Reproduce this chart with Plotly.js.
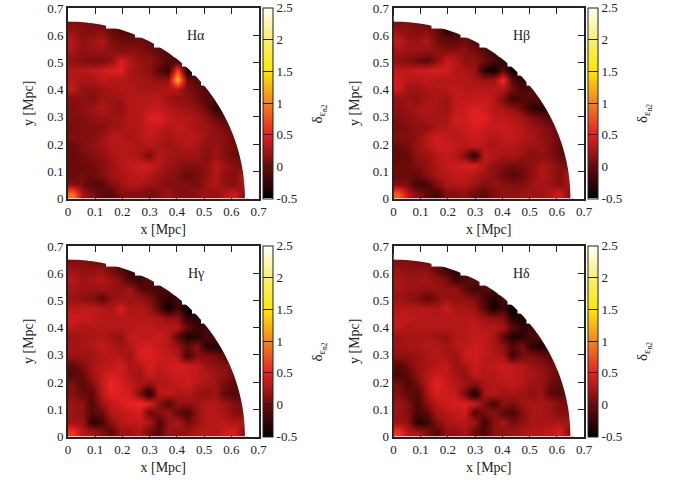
<!DOCTYPE html>
<html><head><meta charset="utf-8">
<script src="https://cdn.plot.ly/plotly-3.0.1.min.js"></script>
<style>html,body{margin:0;padding:0;background:#fff}</style></head>
<body><div id="chart" style="width:676px;height:490px"></div>
<script>
// Cell values; rows run from the top of the map (y about 0.65) to the bottom.
const zHalpha = [
[.1,.1,.05,0],
[.2,.1,.1,.15,0,-.1,-.1],
[.3,.15,.2,.3,.1,.05,0,.05,-.05],
[.25,.15,.2,.2,.15,.1,.15,.1,.05,-.05,-.1],
[.15,.1,.05,.05,.15,.45,.3,.15,.15,.05,-.1,-.2],
[.3,.3,.35,.4,.45,.5,.25,.2,.15,-.1,-.25,.7,-.4],
[.3,.25,.25,.35,.3,.3,.25,.25,.2,.15,.15,1.3,0,-.1],
[.35,.15,.15,.2,.25,.3,.3,.25,.25,.25,.3,.3,.1,0,-.1],
[.1,.15,.1,.2,.2,.2,.3,.3,.3,.35,.2,.15,.15,.05,-.1,-.1],
[.1,.15,.2,.3,.2,.15,.3,.3,.35,.35,.3,.25,.2,.15,0,-.3,-.2],
[.1,.1,.15,.2,.2,.2,.3,.3,.45,.5,.35,.3,.3,.25,.15,0,-.1],
[.05,.1,.1,.1,.2,.25,.3,.3,.4,.35,.3,.35,.3,.25,.2,.15,.05,0],
[.1,.1,.1,.2,.3,.3,.25,.3,.35,.3,.25,.3,.3,.3,.2,.15,.1,0],
[0,.1,.15,.2,.3,.3,.3,.25,.3,.25,.2,.25,.3,.25,.15,.2,.1,.05,0],
[0,.05,.1,.15,.25,.3,.3,.25,.05,.3,.25,.2,.2,.2,.1,.2,.1,0,0],
[0,0,.05,.1,.2,.3,.35,.4,.4,.3,.2,.15,.1,.1,.15,.3,.2,.1,.05],
[0,.05,0,.1,.2,.25,.3,.35,.3,.2,.15,.1,0,.05,.15,.3,.15,.1,.3],
[.1,.05,-.1,-.1,.1,.2,.3,.3,.2,.15,.1,.1,.1,.05,.2,.3,.15,.1,.3],
[.9,.2,.1,-.05,-.1,.1,.1,.1,.05,.1,.2,.1,.1,.15,.2,.15,.3,.4,.1]];
const zHbeta = [
[.1,.1,.05,0],
[.2,.15,.1,.15,0,-.25,-.2],
[.35,.2,.2,.3,.05,0,-.05,.05,-.1],
[.25,.2,.2,.15,.15,.1,.15,.15,.05,-.1,-.2],
[.15,.1,0,-.05,.1,.4,.3,.15,.15,.05,-.15,-.3],
[.35,.35,.4,.4,.45,.4,.3,.25,.2,-.3,-.45,-.05,-.45],
[.4,.3,.3,.35,.3,.3,.3,.3,.25,.2,.2,.6,-.1,-.3],
[.4,.2,.2,.25,.3,.3,.35,.3,.3,.3,.3,.3,.05,-.15,-.1],
[.15,.2,.15,.25,.25,.2,.35,.35,.35,.4,.3,.1,-.2,-.1,-.1,-.1],
[.15,.2,.25,.3,.25,.2,.35,.4,.45,.4,.3,.25,.15,0,-.3,-.35,-.2],
[.1,.15,.2,.25,.25,.25,.4,.4,.5,.5,.35,.35,.3,.25,.1,0,-.1],
[.05,.1,.15,.15,.25,.3,.35,.4,.45,.4,.35,.4,.35,.3,.2,.15,.05,0],
[.1,.1,.15,.3,.4,.35,.3,.35,.4,.35,.3,.35,.35,.3,.25,.15,.1,0],
[0,.05,.2,.3,.4,.4,.35,.3,.35,.3,.25,.3,.3,.25,.2,.2,.1,-.05,0],
[-.05,0,.15,.2,.3,.35,.3,.1,-.3,.35,.3,.25,.25,.2,.1,.15,.1,-.05,0],
[0,0,.1,.15,.3,.35,.4,.45,.45,.3,.15,.1,.05,.05,.15,.25,.2,.1,.05],
[0,0,0,.15,.25,.3,.35,.35,.3,.2,.15,0,-.1,0,.15,.3,.2,.1,.3],
[.1,.05,-.2,-.15,.1,.25,.3,.3,.2,.1,.15,.15,.1,.1,.2,.25,.2,.1,.25],
[.8,.3,.1,-.05,-.2,.1,.1,.15,0,-.05,.1,.15,.15,.2,.2,.2,.3,.4,.1]];
const zHgamma = [
[.1,.1,.05,0],
[.2,.15,.15,.2,.05,-.1,-.25],
[.3,.2,.25,.3,.2,.1,-.15,-.2,-.05],
[.25,.2,.2,.2,.2,.15,.25,-.05,-.15,-.15,-.1],
[.2,.15,.1,-.05,.15,.2,.2,.2,.1,-.15,-.3,-.2],
[.3,.35,.35,.3,.25,.45,.25,.3,.2,-.1,-.45,-.15,-.5],
[.4,.4,.35,.3,.3,.3,.3,.3,.3,.25,.15,.15,-.3,-.3],
[.35,.25,.3,.3,.3,.3,.3,.35,.35,.3,.3,.3,0,-.25,-.2],
[.2,.25,.25,.3,.2,.15,.35,.35,.35,.4,.3,-.05,-.35,-.3,-.15,-.1],
[.25,.25,.3,.35,.3,.2,.3,.4,.45,.35,.3,.2,-.05,.15,-.3,-.35,-.25],
[.2,.2,.2,.3,.3,.3,.2,.45,.45,.4,.35,.3,-.15,.1,.1,.05,-.1],
[-.05,.1,.25,.3,.35,.4,.25,.3,.45,.35,.4,.45,.4,.35,.2,.15,.1,.05],
[-.1,0,.2,.35,.45,.4,.3,.2,.4,.3,.35,.4,.4,.35,.3,.2,.15,0],
[.1,-.1,.1,.35,.55,.45,.35,.25,.15,.3,.3,.35,.4,.3,.25,.2,.05,-.05,.1],
[.1,0,-.05,.3,.5,.45,.4,.1,-.35,.3,.35,.25,.3,.2,.15,.2,-.05,-.1,0],
[.2,.15,-.1,.2,.35,.45,.5,.55,.5,.15,-.1,.2,.15,.2,.3,.3,.2,.1,.05],
[.2,.15,-.1,0,.3,.35,.4,.45,0,.1,.2,-.05,-.15,.15,.3,.3,.25,.1,.1],
[.2,.2,-.3,-.2,.15,.3,.35,.35,.3,-.1,.15,.3,.05,.15,.3,.3,.3,.25,.3],
[.6,.3,.25,.1,-.05,.2,.2,.3,.05,-.1,.2,.15,.2,.3,.3,.3,.4,.45,.1]];
const zHdelta = [
[.1,.1,.05,0],
[.2,.15,.15,.15,0,-.2,-.3],
[.25,.2,.2,.25,.15,.1,-.2,-.1,-.05],
[.25,.2,.2,.15,.2,.15,.2,-.05,-.2,-.1,-.1],
[.2,.15,.1,-.05,.1,.2,.15,.15,.1,-.15,-.35,-.2],
[.3,.3,.3,.3,.25,.4,.25,.25,.2,-.1,-.4,-.2,-.5],
[.35,.35,.3,.3,.3,.3,.3,.3,.3,.2,.15,.1,-.35,-.35],
[.35,.25,.3,.3,.3,.3,.3,.3,.35,.3,.3,.25,-.05,-.3,-.2],
[.2,.25,.25,.25,.2,.15,.3,.3,.35,.35,.25,-.05,-.35,-.3,-.15,-.1],
[.2,.25,.25,.3,.3,.2,.3,.35,.4,.35,.25,.15,-.1,.1,-.3,-.35,-.25],
[.15,.15,.2,.25,.3,.25,.2,.4,.4,.35,.3,.25,-.2,.05,.1,0,-.1],
[-.1,.05,.2,.25,.3,.35,.2,.25,.4,.3,.35,.4,.35,.3,.2,.15,.05,.05],
[-.15,-.05,.15,.3,.4,.35,.25,.15,.35,.3,.3,.35,.35,.3,.25,.2,.1,-.05],
[.05,-.15,.05,.3,.5,.4,.3,.2,.1,.25,.3,.3,.35,.3,.2,.2,0,-.1,.1],
[.1,-.05,-.1,.25,.45,.4,.35,.05,-.4,.25,.3,.2,.25,.2,.15,.2,-.05,-.1,0],
[.2,.1,-.15,.15,.3,.4,.45,.45,.4,.1,-.15,.15,.1,.2,.25,.25,.2,.1,.05],
[.2,.1,-.15,-.05,.25,.3,.35,.4,-.1,.05,.15,-.05,-.15,.1,.25,.25,.2,.1,.1],
[.2,.15,-.35,-.25,.1,.25,.3,.3,.25,-.2,.1,.25,.05,.15,.25,.25,.25,.25,.25],
[.6,.3,.25,.1,-.1,.15,.15,.25,0,-.15,.15,.15,.2,.25,.3,.3,.35,.45,.1]];

const panelNames = ['Hα','Hβ','Hγ','Hδ'];
const panelData = [zHalpha, zHbeta, zHgamma, zHdelta];
const axisTicks = [0,0.1,0.2,0.3,0.4,0.5,0.6,0.7];
const axisTickText = ['0','0.1','0.2','0.3','0.4','0.5','0.6','0.7'];
const barTicks = [-0.5,0,0.5,1,1.5,2,2.5];
const barTickText = ['-0.5','0','0.5','1','1.5','2','2.5'];
const colorStops = [[-0.5,'#000000'],[0,'#6a0a0a'],[0.5,'#e62020'],[1,'#f58220'],[1.5,'#ffe600'],[2,'#faf06e'],[2.5,'#fffffa']];
const mapRadius = 0.65;

const W = 676, H = 490;
const FONT = 'Liberation Serif';
const INK = '#222222';
const lefts = [68, 393.5], tops = [8, 246], SIZE = 190.5;
const scale = colorStops.map(([v,c]) => [(v+0.5)/3, c]);

// White area outside the circular map, computed from the radius
const maskPts = [];
for (let a = 0; a <= 90; a += 1) {
  const t = a*Math.PI/180;
  maskPts.push([mapRadius*Math.sin(t), mapRadius*Math.cos(t)]);
}
const maskPath = (xr, yr) => 'M' + maskPts.map(p => p[0].toFixed(4)+','+p[1].toFixed(4)).join(' L') +
  ' L0.672,0 L0.672,0.672 L0,0.672 Z';

const traces = [], layout = {
  width: W, height: H, margin: {l:0,r:0,t:0,b:0,autoexpand:false},
  paper_bgcolor:'#fff', plot_bgcolor:'#fff', showlegend:false,
  font:{family:FONT,size:13,color:INK}, annotations:[], shapes:[]
};
panelData.forEach((rows, k) => {
  const col = k%2, row = Math.floor(k/2), s = k===0 ? '' : String(k+1);
  const L = lefts[col], T = tops[row];
  const common = {
    range:[0,0.7], tickmode:'array', tickvals:axisTicks, ticktext:axisTickText,
    ticks:'inside', ticklen:6, tickwidth:1, tickcolor:INK, showline:true, linecolor:INK, linewidth:2,
    mirror:'ticks', showgrid:false, zeroline:false, layer:'below traces', automargin:false,
    tickfont:{family:FONT,size:13,color:INK}, fixedrange:true
  };
  layout['xaxis'+s] = Object.assign({}, common, {
    domain:[L/W,(L+SIZE)/W], anchor:'y'+s,
    title:{text:'x [Mpc]',font:{family:FONT,size:14,color:INK},standoff:6}
  });
  layout['yaxis'+s] = Object.assign({}, common, {
    domain:[1-(T+SIZE)/H,1-T/H], anchor:'x'+s,
    title:{text:'y [Mpc]',font:{family:FONT,size:14,color:INK},standoff:10}
  });
  traces.push({
    type:'heatmap', z:rows.slice().reverse(), x0:0.0175, dx:0.035, y0:0.0175, dy:0.035,
    xaxis:'x'+s, yaxis:'y'+s, zmin:-0.5, zmax:2.5, zsmooth:'best', colorscale:scale, hoverongaps:false,
    colorbar:{
      x:(L+SIZE+4)/W, xanchor:'left', xpad:0, ypad:0, thickness:10, thicknessmode:'pixels',
      y:1-(T+SIZE)/H, yanchor:'bottom', len:SIZE, lenmode:'pixels',
      tickmode:'array', tickvals:barTicks, ticktext:barTickText, tickprefix:'\u00A0\u00A0',
      ticks:'inside', ticklen:10, tickwidth:1, tickcolor:INK,
      outlinecolor:INK, outlinewidth:1, borderwidth:0, tickfont:{family:FONT,size:13,color:INK}
    }
  });
  layout.shapes.push({type:'path', xref:'x'+s, yref:'y'+s, path:maskPath(), fillcolor:'#fff', line:{width:0}, layer:'above'});
  layout.annotations.push({xref:'x'+s, yref:'y'+s, x:0.47, y:0.6, xanchor:'center', yanchor:'middle', showarrow:false,
    text:panelNames[k], font:{family:FONT,size:14,color:INK}});
  layout.annotations.push({xref:'paper', yref:'paper', x:(L+SIZE+60)/W, y:1-(T+106)/H, xanchor:'center', yanchor:'middle', showarrow:false,
    textangle:-90, text:'δ<sub>ε<sub>n2</sub></sub>', font:{family:FONT,size:15,color:INK}});
});
Plotly.newPlot('chart', traces, layout, {displayModeBar:false, staticPlot:true});
</script></body></html>
